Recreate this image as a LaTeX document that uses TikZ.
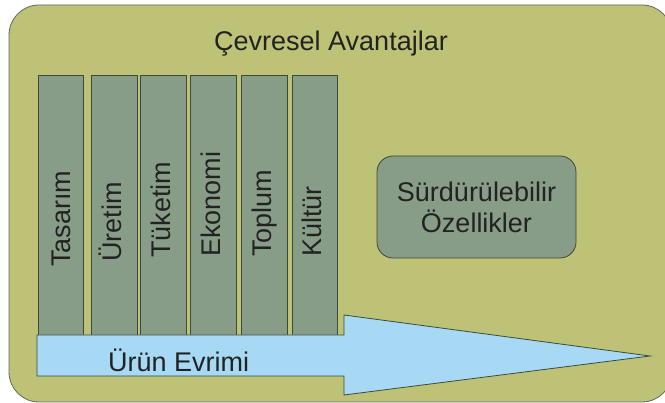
\documentclass[tikz,border=0pt]{standalone}
\usepackage{fontspec}
\setmainfont{Liberation Sans}
\definecolor{olive}{HTML}{BDC276}
\definecolor{colfill}{HTML}{889D87}
\definecolor{arrowfill}{HTML}{A7D9F4}
\definecolor{edge}{HTML}{3C4A3C}
\definecolor{txt}{HTML}{222222}
\begin{document}
\begin{tikzpicture}[x=1pt,y=-1pt,
  colbox/.style={draw=edge,line width=0.8pt,fill=colfill},
  coltext/.style={rotate=90,anchor=base west,inner sep=0pt,text=txt,font=\fontsize{27}{30}\selectfont},
  bigtext/.style={text=txt,font=\fontsize{27}{31}\selectfont}]
\useasboundingbox (0,0) rectangle (665,403);
\fill[white] (0,0) rectangle (665,403);
\draw[fill=olive,draw=gray!80!black,line width=0.8pt,rounded corners=30pt] (9,5) rectangle (672,402);
\node[bigtext,anchor=base] (title) at (331,51) {Çevresel Avantajlar};
% columns
\draw[colbox] (38,75) rectangle (83,335);
\draw[colbox] (91,75) rectangle (137,335);
\draw[colbox] (140,75) rectangle (186,335);
\draw[colbox] (190,75) rectangle (236,335);
\draw[colbox] (241,75) rectangle (287,335);
\draw[colbox] (292,75) rectangle (337,335);
\node[coltext] (c1) at (70,267) {Tasarım};
\node[coltext] (c2) at (121.5,262) {Üretim};
\node[coltext] (c3) at (170.5,258) {Tüketim};
\node[coltext] (c4) at (220.5,257) {Ekonomi};
\node[coltext] (c5) at (271.5,257) {Toplum};
\node[coltext] (c6) at (321.5,257) {Kültür};
% arrow
\draw[draw=edge,line width=0.8pt,fill=arrowfill] (37,335) -- (344,335) -- (344,315) -- (650,356) -- (344,395) -- (344,376) -- (37,376) -- cycle;
\node[bigtext,anchor=base west,inner sep=0pt] (evr) at (108,372) {Ürün Evrimi};
% box
\node[draw=edge,line width=0.8pt,fill=colfill,rounded corners=16pt,minimum width=199pt,minimum height=102pt,align=center,bigtext] (sur) at (476.5,207) {Sürdürülebilir\\Özellikler};
\end{tikzpicture}
\end{document}
